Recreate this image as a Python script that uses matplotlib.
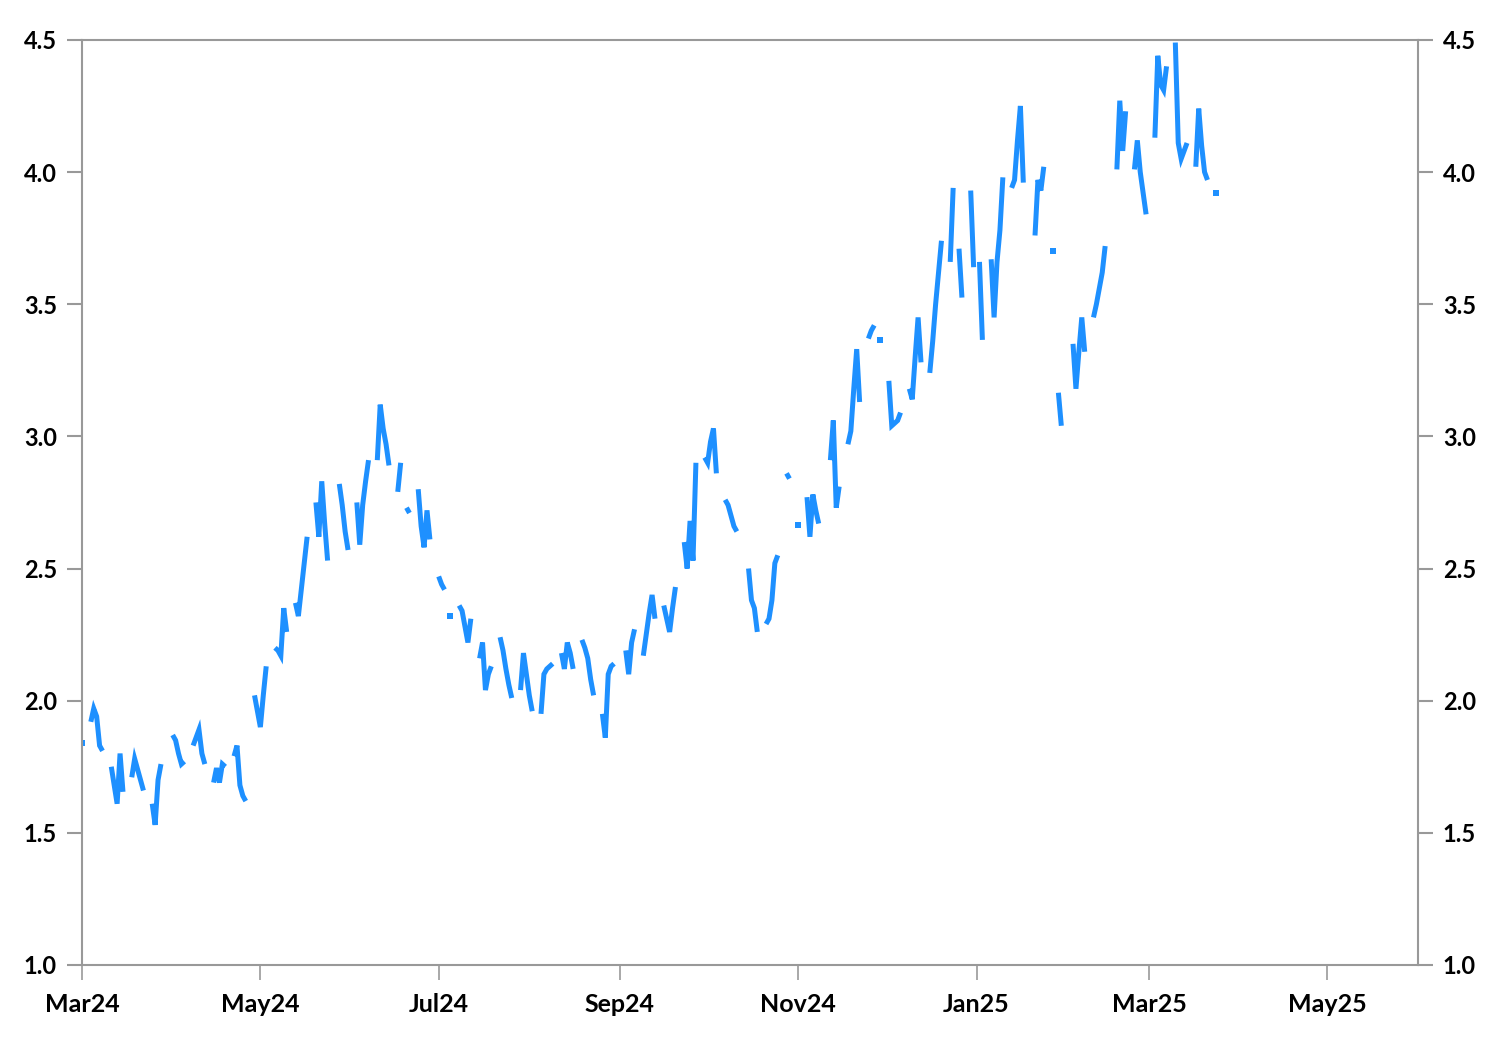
import numpy as np
import pandas as pd
import matplotlib
matplotlib.use("Agg")
import matplotlib.pyplot as plt
import matplotlib.dates as mdates
from matplotlib.ticker import FormatStrFormatter

nan = np.nan

# weekday values from Fri 1 Mar 2024 to Mon 24 Mar 2025 (nan = market holiday / missing)
start_day = "2024-03-01"
end_day = "2025-03-24"
values = [
    1.84,                              # Mar 1
    1.92, 1.97, 1.94, 1.83, 1.81,      # Mar 4
    1.75, 1.68, 1.61, 1.80, 1.655,     # Mar 11
    1.71, 1.78, 1.74, 1.70, 1.66,      # Mar 18
    1.61, 1.53, 1.70, 1.76, nan,       # Mar 25
    1.87, 1.85, 1.80, 1.76, 1.77,      # Apr 1
    1.83, 1.86, 1.89, 1.80, 1.76,      # Apr 8
    1.69, 1.745, 1.69, 1.76, 1.75,     # Apr 15
    1.79, 1.83, 1.68, 1.64, 1.62,      # Apr 22
    2.02, 1.96, 1.90, 2.02, 2.13,      # Apr 29
    2.20, 2.19, 2.17, 2.35, 2.26,      # May 6
    2.37, 2.32, 2.42, 2.52, 2.62,      # May 13
    2.75, 2.62, 2.83, 2.67, 2.53,      # May 20
    nan, 2.82, 2.74, 2.64, 2.57,       # May 27
    2.75, 2.59, 2.74, 2.83, 2.91,      # Jun 3
    2.91, 3.12, 3.03, 2.97, 2.89,      # Jun 10
    2.79, 2.90, nan, 2.73, 2.71,       # Jun 17
    2.80, 2.66, 2.58, 2.72, 2.61,      # Jun 24
    2.47, 2.44, 2.42, nan, 2.32,       # Jul 1
    2.36, 2.34, 2.28, 2.22, 2.31,      # Jul 8
    2.16, 2.22, 2.04, 2.10, 2.13,      # Jul 15
    2.24, 2.19, 2.12, 2.06, 2.01,      # Jul 22
    2.04, 2.18, 2.10, 2.02, 1.96,      # Jul 29
    1.95, 2.10, 2.12, 2.13, 2.14,      # Aug 5
    2.18, 2.12, 2.22, 2.18, 2.12,      # Aug 12
    2.23, 2.20, 2.16, 2.08, 2.02,      # Aug 19
    1.95, 1.86, 2.10, 2.13, 2.14,      # Aug 26
    nan, 2.19, 2.10, 2.22, 2.27,       # Sep 2
    2.17, 2.25, 2.33, 2.40, 2.31,      # Sep 9
    2.36, 2.31, 2.26, 2.35, 2.43,      # Sep 16
    2.60, 2.50, 2.68, 2.53, 2.90,      # Sep 23
    2.92, 2.90, 2.98, 3.03, 2.86,      # Sep 30
    2.76, 2.74, 2.70, 2.66, 2.64,      # Oct 7
    nan, 2.50, 2.38, 2.35, 2.26,       # Oct 14
    2.29, 2.31, 2.38, 2.52, 2.55,      # Oct 21
    2.86, 2.84, nan, nan, 2.665,       # Oct 28
    2.77, 2.62, 2.78, 2.72, 2.67,      # Nov 4
    nan, 2.91, 3.06, 2.73, 2.81,       # Nov 11
    2.97, 3.02, 3.18, 3.33, 3.13,      # Nov 18
    3.37, 3.40, 3.42, nan, 3.365,      # Nov 25
    3.21, 3.04, 3.05, 3.06, 3.09,      # Dec 2
    3.18, 3.14, 3.30, 3.45, 3.28,      # Dec 9
    3.24, 3.36, 3.50, 3.62, 3.74,      # Dec 16
    3.66, 3.94, nan, 3.71, 3.525,      # Dec 23
    3.93, 3.64, nan, 3.66, 3.365,      # Dec 30
    3.67, 3.45, 3.66, 3.78, 3.98,      # Jan 6
    3.94, 3.97, 4.12, 4.25, 3.96,      # Jan 13
    nan, 3.76, 3.97, 3.93, 4.02,       # Jan 20
    3.70, nan, 3.165, 3.04, nan,       # Jan 27
    3.35, 3.18, 3.32, 3.45, 3.32,      # Feb 3
    3.45, 3.50, 3.56, 3.62, 3.72,      # Feb 10
    nan, 4.01, 4.27, 4.08, 4.23,       # Feb 17
    4.01, 4.12, 4.00, 3.92, 3.84,      # Feb 24
    4.13, 4.44, 4.33, 4.31, 4.40,      # Mar 3
    4.49, 4.11, 4.05, 4.08, 4.11,      # Mar 10
    4.02, 4.24, 4.10, 4.00, 3.97,      # Mar 17
    3.92,                              # Mar 24
]

x_start = "2024-03-01"
x_end = "2025-06-01"
y_ticks = [1.0, 1.5, 2.0, 2.5, 3.0, 3.5, 4.0, 4.5]

line_color = "#1E90FF"
frame_color = "#999999"

# weekdays -> calendar days, so weekends become gaps in the line
s = pd.Series(values, index=pd.bdate_range(start_day, end_day))
s = s.reindex(pd.date_range(start_day, end_day, freq="D"))
v = s.values
prev_nan = np.concatenate([[True], np.isnan(v[:-1])])
next_nan = np.concatenate([np.isnan(v[1:]), [True]])
lonely = ~np.isnan(v) & prev_nan & next_nan

plt.rcParams["font.family"] = ["Lato", "DejaVu Sans"]
plt.rcParams["font.weight"] = "bold"
fig = plt.figure(figsize=(15, 10.5), dpi=100)
ax = fig.add_axes([0.0547, 0.081, 0.8906, 0.881])

ax.plot(s.index, v, color=line_color, lw=3.6,
        solid_joinstyle="miter", solid_capstyle="butt")
ax.plot(s.index[lonely], v[lonely], ls="none", marker="s",
        ms=3.8, color=line_color, mew=0)

ax.set_xlim(pd.Timestamp(x_start), pd.Timestamp(x_end))
ax.set_ylim(1.0, 4.5)
ax.set_yticks(y_ticks)
ax.yaxis.set_major_formatter(FormatStrFormatter("%.1f"))
ax.xaxis.set_major_locator(mdates.MonthLocator(bymonth=[1, 3, 5, 7, 9, 11]))
ax.xaxis.set_major_formatter(mdates.DateFormatter("%b%y"))

for sp in ax.spines.values():
    sp.set_color(frame_color)
    sp.set_linewidth(1.5)

ax.tick_params(axis="y", direction="out", length=11, width=1.5,
               color=frame_color, left=True, right=True,
               labelleft=True, labelright=True, labelsize=17, pad=7)
ax.tick_params(axis="x", direction="out", length=11, width=1.2,
               color=frame_color, labelsize=18, pad=9)

fig.savefig("out.png", dpi=100, facecolor="white")
